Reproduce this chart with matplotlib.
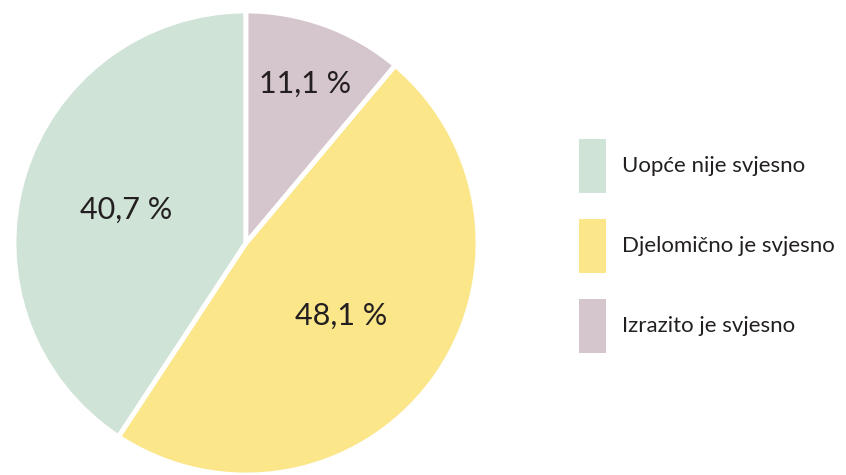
import matplotlib.pyplot as plt
import numpy as np
from matplotlib.patches import Rectangle

plt.rcParams['font.family'] = ['Lato', 'DejaVu Sans']

# data (legend order, pie drawn counter-clockwise from top)
labels = ['Uopće nije svjesno', 'Djelomično je svjesno', 'Izrazito je svjesno']
values = [40.7, 48.1, 11.1]
colors = ['#cfe3d6', '#fbe68a', '#d5c5cc']

TEXT = '#231f20'
W, H = 846, 475

fig = plt.figure(figsize=(W / 100, H / 100), dpi=100)

# pie axes placed in pixel terms
cx, cy, r = 246, 243, 232
ax = fig.add_axes([(cx - r) / W, (H - cy - r) / H, 2 * r / W, 2 * r / H])
wedges, _ = ax.pie(values, colors=colors, startangle=90, counterclock=True,
                   wedgeprops=dict(edgecolor='white', linewidth=3.5))
ax.set_xlim(-1, 1)
ax.set_ylim(-1, 1)
ax.set_aspect('equal')

# percentage labels
label_r = [0.54, 0.51, 0.74]
for w, v, lr in zip(wedges, values, label_r):
    ang = np.deg2rad((w.theta1 + w.theta2) / 2)
    ax.text(lr * np.cos(ang), lr * np.sin(ang), f'{v:.1f} %'.replace('.', ','),
            ha='center', va='center_baseline', fontsize=22, color=TEXT)

# legend drawn by hand
lg = fig.add_axes([0, 0, 1, 1])
lg.set_xlim(0, W)
lg.set_ylim(H, 0)
lg.axis('off')
for i, (lab, c) in enumerate(zip(labels, colors)):
    top = 139 + i * 80
    lg.add_patch(Rectangle((579, top), 27, 54, facecolor=c, edgecolor='none'))
    lg.text(622, top + 27, lab, ha='left', va='center', fontsize=16, color=TEXT)

plt.savefig('out.png', dpi=100, facecolor='white')
